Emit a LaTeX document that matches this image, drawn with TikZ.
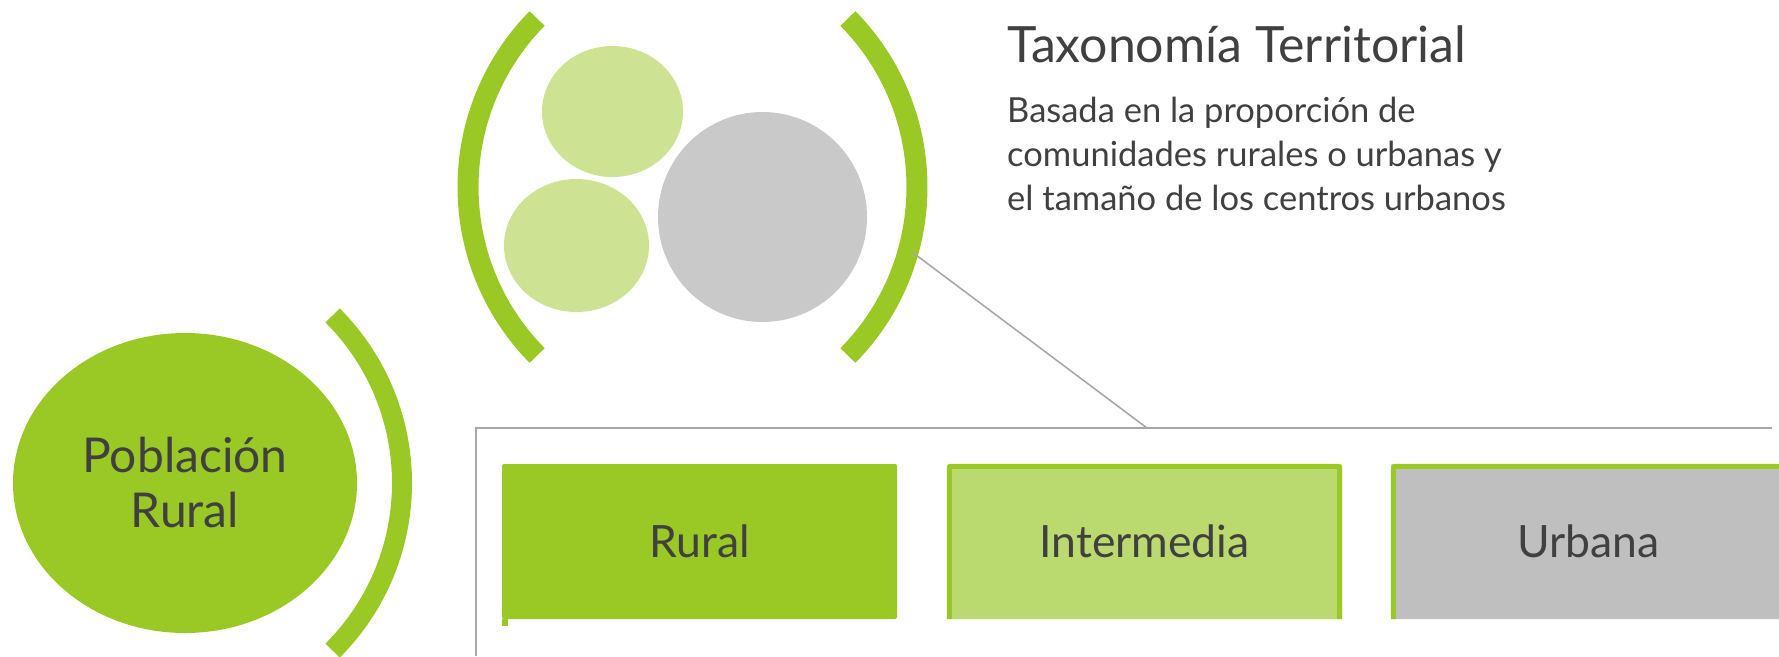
\documentclass[tikz,border=0pt]{standalone}
\usepackage{fontspec}
\setmainfont{Lato}
\usetikzlibrary{shapes.geometric}
\definecolor{vgreen}{HTML}{9AC825}
\definecolor{lgreen}{HTML}{CDE293}
\definecolor{mgreen}{HTML}{BAD96E}
\definecolor{cgray}{HTML}{C9C9C9}
\definecolor{bgray}{HTML}{BFBFBF}
\definecolor{lgray}{HTML}{A6A6A6}
\definecolor{txt}{HTML}{404040}
\begin{document}
\begin{tikzpicture}[x=1pt,y=-1pt,
  bracket/.style={draw=vgreen,line width=20pt},
  blob/.style={ellipse,inner sep=0pt,draw=none},
  catbox/.style={rectangle,inner sep=0pt,minimum width=395pt,minimum height=155pt,rounded corners=2pt,text=txt,font=\fontsize{44.5}{53}\selectfont},
  greyline/.style={draw=lgray,line width=1.5pt}]
\useasboundingbox (0,0) rectangle (1779,656);
% left group
\node[blob,fill=vgreen,minimum width=344pt,minimum height=300pt,align=center,text=txt,
  font=\fontsize{48}{55}\selectfont] (pob) at (185,483) {Población\\Rural};
\draw[bracket] (165,483) ++(-45:237) arc[start angle=-45,end angle=45,radius=237];
% top group
\draw[bracket,line width=21pt] (708,187) ++(135.4:240) arc[start angle=135.4,end angle=224.6,radius=240];
\draw[bracket,line width=21pt] (677,187) ++(-44.6:240) arc[start angle=-44.6,end angle=44.6,radius=240];
\node[blob,fill=lgreen,minimum width=141pt,minimum height=131pt] (c1) at (612.5,111.5) {};
\node[blob,fill=lgreen,minimum width=145pt,minimum height=133pt] (c2) at (576.5,245.5) {};
\node[blob,fill=cgray,minimum width=209pt,minimum height=210pt] (c3) at (762.5,217) {};
% title and text
\node[anchor=base west,inner sep=0pt,text=txt,font=\fontsize{50}{60}\selectfont] (title) at (1007,62) {Taxonomía Territorial};
\node[anchor=base west,inner sep=0pt,text=txt,align=left,font=\fontsize{34.5}{44}\selectfont] (desc) at (1007,210)
  {Basada en la proporción de\\comunidades rurales o urbanas y\\el tamaño de los centros urbanos};
% frame
\coordinate (fbl) at (476,656);
\coordinate (ftl) at (476,428);
\coordinate (ftr) at (1772,428);
\draw[greyline,line width=2pt] (fbl) -- (ftl) -- (ftr);
% connector
\coordinate (cs) at (912,252);
\coordinate (ce) at (1147,428);
\draw[greyline] (cs) -- (ce);
% boxes
\node[catbox,fill=vgreen] (rural) at (699.5,541.5) {Rural};
\fill[vgreen] (rural.south west) rectangle ++(6,7);
\node[catbox,fill=mgreen] (inter) at (1144.5,541.5) {Intermedia};
\draw[vgreen,line width=5pt,rounded corners=2pt] ([xshift=2.5pt]inter.south west) |- ([yshift=-2.5pt]inter.north) -| ([xshift=-2.5pt]inter.south east);
\node[catbox,fill=bgray] (urb) at (1588.5,541.5) {Urbana};
\draw[vgreen,line width=5pt,rounded corners=2pt] ([xshift=2.5pt]urb.south west) |- ([yshift=-2.5pt]urb.north) -| ([xshift=-2.5pt]urb.south east);
\end{tikzpicture}
\end{document}
